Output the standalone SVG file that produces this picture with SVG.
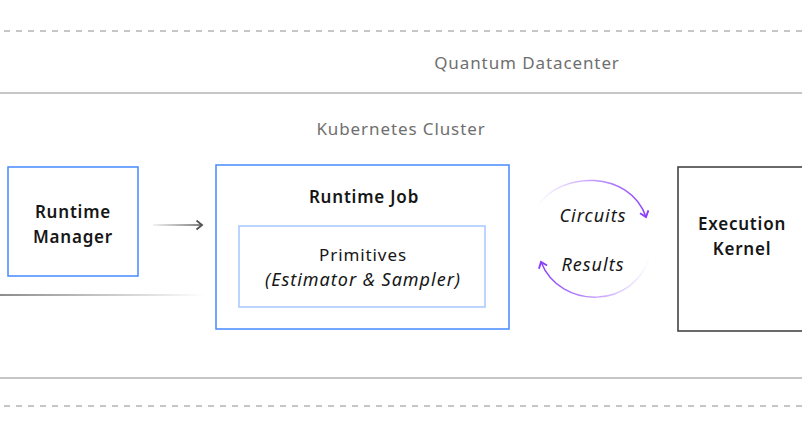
<svg xmlns="http://www.w3.org/2000/svg" width="802" height="426" viewBox="0 0 802 426">
<style>
.sep{stroke:#c6c6c6;stroke-width:2;fill:none}
.dash{stroke:#c6c6c6;stroke-width:2;fill:none;stroke-dasharray:6 6}
.zone{font-family:"Noto Sans","Liberation Sans",sans-serif;font-size:17px;letter-spacing:0.9px;fill:#6f6f6f;text-anchor:middle}
.title{font-family:"Noto Sans","Liberation Sans",sans-serif;font-size:17px;font-weight:600;letter-spacing:0.8px;fill:#161616;text-anchor:middle}
.body{font-family:"Noto Sans","Liberation Sans",sans-serif;font-size:17px;letter-spacing:0.9px;fill:#161616;text-anchor:middle}
.ital{font-family:"Noto Sans","Liberation Sans",sans-serif;font-size:18px;font-style:italic;letter-spacing:1px;fill:#161616;text-anchor:middle}
.blue{fill:#fff;stroke:#4589ff;stroke-width:1.5}
.lblue{fill:#fff;stroke:#a6c8ff;stroke-width:1.5}
.dark{fill:#fff;stroke:#393939;stroke-width:1.5}
</style>
<defs>
<linearGradient id="gArrow" gradientUnits="userSpaceOnUse" x1="153" y1="0" x2="203" y2="0">
<stop offset="0" stop-color="#525252" stop-opacity="0.1"/>
<stop offset="1" stop-color="#525252"/>
</linearGradient>
<linearGradient id="gLine" gradientUnits="userSpaceOnUse" x1="0" y1="0" x2="205" y2="0">
<stop offset="0" stop-color="#8d8d8d"/>
<stop offset="1" stop-color="#8d8d8d" stop-opacity="0"/>
</linearGradient>
<linearGradient id="gTop" gradientUnits="userSpaceOnUse" x1="537" y1="0" x2="647" y2="0">
<stop offset="0" stop-color="#8a3ffc" stop-opacity="0"/>
<stop offset="1" stop-color="#8a3ffc"/>
</linearGradient>
<linearGradient id="gBot" gradientUnits="userSpaceOnUse" x1="541" y1="0" x2="650" y2="0">
<stop offset="0" stop-color="#8a3ffc"/>
<stop offset="1" stop-color="#8a3ffc" stop-opacity="0"/>
</linearGradient>
<marker id="mGrey" viewBox="0 0 10 10" refX="8" refY="5" markerWidth="11" markerHeight="11" markerUnits="userSpaceOnUse" orient="auto">
<path d="M3,1 L8,5 L3,9" fill="none" stroke="#525252" stroke-width="1.7"/>
</marker>
<marker id="mPurple" viewBox="0 0 10 10" refX="8" refY="5" markerWidth="11" markerHeight="11" markerUnits="userSpaceOnUse" orient="auto">
<path d="M3,1 L8,5 L3,9" fill="none" stroke="#8a3ffc" stroke-width="1.7"/>
</marker>
</defs>

<g id="zones">
<line class="dash" x1="4" y1="31" x2="802" y2="31"/>
<text class="zone" x="527" y="69">Quantum Datacenter</text>
<line class="sep" x1="0" y1="93" x2="802" y2="93"/>
<text class="zone" x="401" y="135">Kubernetes Cluster</text>
<line class="sep" x1="0" y1="378" x2="802" y2="378"/>
<line class="dash" x1="4" y1="406" x2="802" y2="406"/>
</g>

<g id="connectors">
<line x1="153" y1="225" x2="202" y2="225" stroke="url(#gArrow)" stroke-width="1.5" marker-end="url(#mGrey)"/>
<line x1="0" y1="295" x2="205" y2="295" stroke="url(#gLine)" stroke-width="2"/>
<path d="M537,207 C560,170 630,170 646,217" fill="none" stroke="url(#gTop)" stroke-width="1.5" marker-end="url(#mPurple)"/>
<path d="M650,255 C635,310 560,310 541,262" fill="none" stroke="url(#gBot)" stroke-width="1.5" marker-end="url(#mPurple)"/>
</g>

<g id="runtime-manager">
<rect class="blue" x="8" y="167" width="130" height="109"/>
<text class="title" x="73" y="218">Runtime</text>
<text class="title" x="73" y="243">Manager</text>
</g>

<g id="runtime-job">
<rect class="blue" x="216" y="165" width="293" height="164"/>
<text class="title" x="364" y="203">Runtime Job</text>
</g>

<g id="primitives">
<rect class="lblue" x="239" y="226" width="246" height="81"/>
<text class="body" x="363" y="261">Primitives</text>
<text class="ital" x="363" y="286">(Estimator &amp; Sampler)</text>
</g>

<g id="labels">
<text class="ital" x="593" y="222">Circuits</text>
<text class="ital" x="593" y="271">Results</text>
</g>

<g id="execution-kernel">
<rect class="dark" x="678" y="167" width="130" height="164"/>
<text class="title" x="742" y="230">Execution</text>
<text class="title" x="742" y="255">Kernel</text>
</g>
</svg>
